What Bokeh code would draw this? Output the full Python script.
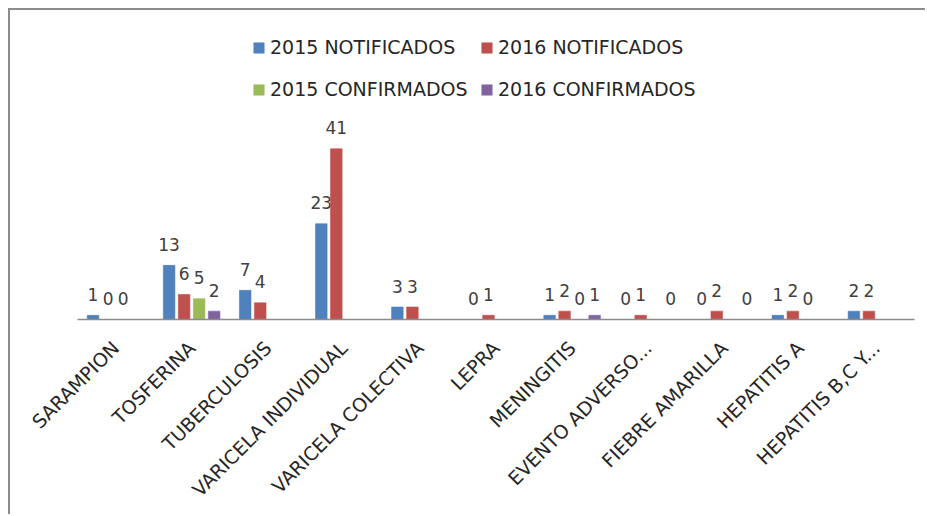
import math
from bokeh.plotting import figure
from bokeh.models import ColumnDataSource, Legend, LegendItem, FactorRange
from bokeh.transform import dodge
from bokeh.core.properties import value
from bokeh.embed import file_html
from bokeh.resources import INLINE

categories = ["SARAMPION", "TOSFERINA", "TUBERCULOSIS", "VARICELA INDIVIDUAL",
              "VARICELA COLECTIVA", "LEPRA", "MENINGITIS", "EVENTO ADVERSO...",
              "FIEBRE AMARILLA", "HEPATITIS A", "HEPATITIS B,C Y..."]
notif_2015 = [1, 13, 7, 23, 3, 0, 1, 0, 0, 1, 2]
notif_2016 = [0, 6, 4, 41, 3, 1, 2, 1, 2, 2, 2]
conf_2015 = [0, 5, None, None, None, None, 0, None, None, 0, None]
conf_2016 = [None, 2, None, None, None, None, 1, 0, 0, None, None]
series_names = ["2015 NOTIFICADOS", "2016 NOTIFICADOS", "2015 CONFIRMADOS", "2016 CONFIRMADOS"]
series_values = [notif_2015, notif_2016, conf_2015, conf_2016]
colors = ["#4f81bd", "#c0504d", "#9bbb59", "#8064a2"]
offsets = [-0.296, -0.0985, 0.0985, 0.296]
FONT = "DejaVu Sans"

p = figure(x_range=FactorRange(*categories), y_range=(0, 73),
           width=917, height=506, output_backend="svg", toolbar_location=None,
           y_axis_location=None, min_border_left=67, min_border_right=13,
           min_border_top=5, min_border_bottom=197)
p.outline_line_color = None
p.xgrid.grid_line_color = None
p.ygrid.grid_line_color = None
p.styles = {"margin-left": "8px", "margin-top": "8px",
            "border-top": "2px solid #8c8c8c", "border-left": "2px solid #8c8c8c"}

renderers = []
for name, vals, col, off in zip(series_names, series_values, colors, offsets):
    tops = [float("nan") if v is None else v for v in vals]
    src = ColumnDataSource(dict(cat=categories, top=tops))
    r = p.vbar(x=dodge("cat", off, range=p.x_range), top="top", width=0.152,
               source=src, fill_color=col, line_color=col, line_alpha=0.6)
    renderers.append(r)
    lc = [c for c, v in zip(categories, vals) if v is not None]
    lv = [v for v in vals if v is not None]
    lsrc = ColumnDataSource(dict(cat=lc, y=lv, txt=[str(v) for v in lv]))
    p.text(x=dodge("cat", off, range=p.x_range), y="y", text="txt", source=lsrc,
           text_align="center", text_baseline="alphabetic", y_offset=-21,
           text_font=value(FONT), text_font_size="17px", text_color="#404040")

ax = p.xaxis[0]
ax.major_label_orientation = math.pi / 4
ax.major_tick_line_color = None
ax.minor_tick_line_color = None
ax.major_tick_out = 0
ax.major_tick_in = 0
ax.major_label_standoff = 25
ax.axis_line_color = "#8c8c8c"
ax.axis_line_width = 1.5
ax.major_label_text_font = FONT
ax.major_label_text_font_size = "19px"
ax.major_label_text_color = "#262626"

def make_legend(items, loc):
    lg = Legend(items=items, location=loc, orientation="horizontal",
                glyph_width=13, glyph_height=13, label_height=13, label_width=206,
                label_standoff=5, spacing=4, padding=0, margin=0,
                border_line_color=None, background_fill_alpha=0,
                label_text_font=FONT, label_text_font_size="19px",
                label_text_color="#262626")
    p.add_layout(lg, "center")

make_legend([LegendItem(label=series_names[0], renderers=[renderers[0]]),
             LegendItem(label=series_names[1], renderers=[renderers[1]])], (175, 261))
make_legend([LegendItem(label=series_names[2], renderers=[renderers[2]]),
             LegendItem(label=series_names[3], renderers=[renderers[3]])], (175, 219))

open("out.html", "w").write(file_html(p, INLINE))
